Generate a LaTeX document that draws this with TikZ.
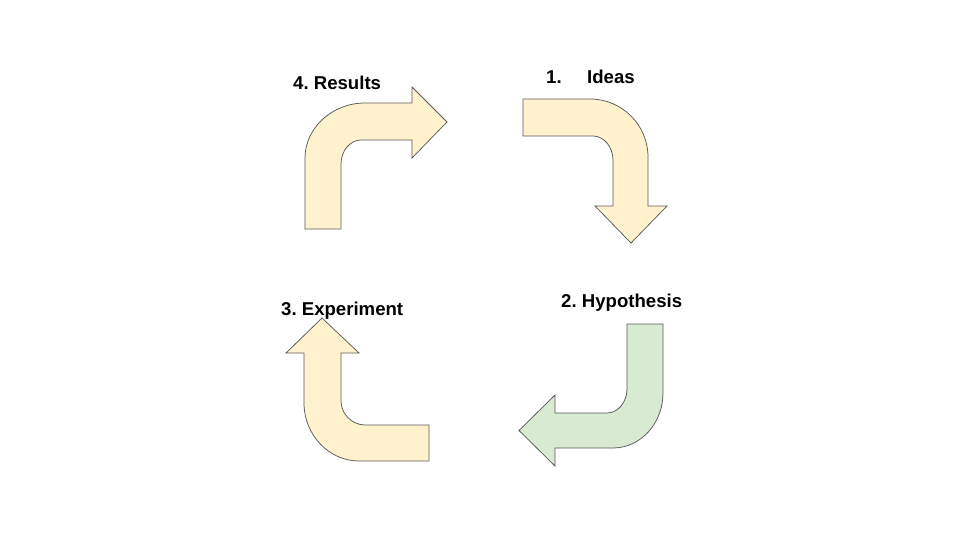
\documentclass[tikz,border=0pt]{standalone}
\usepackage{fontspec}
\setmainfont{Liberation Sans}
\frenchspacing
\definecolor{ayellow}{HTML}{FFF2CC}
\definecolor{agreen}{HTML}{D9EAD3}
\definecolor{aline}{HTML}{595959}
\tikzset{
  bentarrow/.style={draw=aline, line width=0.75pt, line join=miter},
  lbl/.style={anchor=base west, inner sep=0pt, font=\fontsize{18.6}{22}\selectfont\bfseries\frenchspacing, text=black}
}
\begin{document}
\begin{tikzpicture}[x=1pt,y=-1pt]
\useasboundingbox (0,0) rectangle (960,540);
% 4. Results
\draw[bentarrow, fill=ayellow] (305,229) -- (305,158) .. controls (305,128) and (332,103) .. (365,103) -- (412,103) -- (412,87) -- (447,122) -- (412,158) -- (412,140) -- (361,140) .. controls (350,140) and (341,151) .. (341,164) -- (341,229) -- cycle;
% 1. Ideas
\draw[bentarrow, fill=ayellow] (523,99) -- (590,99) .. controls (622,99) and (648,125) .. (648,157) -- (648,206) -- (667,206) -- (631,243) -- (595,206) -- (613,206) -- (613,160) .. controls (613,147) and (604,136) .. (593,136) -- (523,136) -- cycle;
% 3. Experiment
\draw[bentarrow, fill=ayellow] (429,461) -- (359,461) .. controls (329,461) and (304,435) .. (304,403) -- (304,353) -- (286,353) -- (322,318) -- (359,353) -- (341,353) -- (341,401) .. controls (341,414) and (352,425) .. (365,425) -- (429,425) -- cycle;
% 2. Hypothesis
\draw[bentarrow, fill=agreen] (627,324) -- (663,324) -- (663,393) .. controls (663,423) and (641,448) .. (613,448) -- (555,448) -- (555,466) -- (519,430.5) -- (555,395) -- (555,413) -- (607,413) .. controls (618,413) and (627,402) .. (627,389) -- cycle;
% labels
\node[lbl] (results) at (293,90) {4. Results};
\node[lbl] (ideas) at (546,84) {1.\hspace{25.5pt}Ideas};
\node[lbl] (experiment) at (281,315) {3. Experiment};
\node[lbl] (hypothesis) at (561,307) {2. Hypothesis};
\end{tikzpicture}
\end{document}
